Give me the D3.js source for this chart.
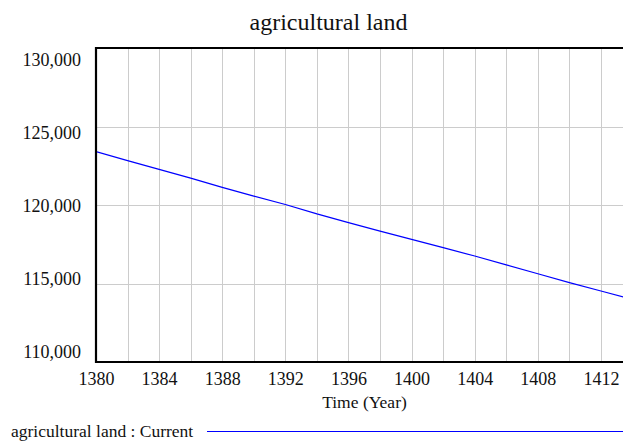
<!DOCTYPE html>
<html>
<head>
<meta charset="utf-8">
<script src="https://cdn.jsdelivr.net/npm/d3@7"></script>
<style>
  body { margin: 0; background: #fff; }
  svg { display: block; }
  text { font-family: "Liberation Serif", "Times New Roman", serif; fill: #111; }
</style>
</head>
<body>
<div id="chart"></div>
<script>
// values (every 2 years)
const years = [1380, 1382, 1384, 1386, 1388, 1390, 1392, 1394, 1396, 1398, 1400, 1402, 1404, 1406, 1408, 1410, 1412, 1414];
const land = [123400, 122830, 122270, 121710, 121120, 120570, 120030, 119430, 118880, 118340, 117810, 117280, 116750, 116190, 115620, 115060, 114520, 113980];
const xTicks = [1380, 1384, 1388, 1392, 1396, 1400, 1404, 1408, 1412];
const xGrid = [1382, 1384, 1386, 1388, 1390, 1392, 1394, 1396, 1398, 1400, 1402, 1404, 1406, 1408, 1410, 1412, 1414];
const yTicks = [110000, 115000, 120000, 125000, 130000];
const yGrid = [115000, 120000, 125000];

const W = 623, H = 443;
const plotLeft = 96, plotTop = 48, plotBottom = 362;

const svg = d3.select("#chart").append("svg")
    .attr("width", W)
    .attr("height", H);

const x = d3.scaleLinear().domain([1380, 1414]).range([plotLeft, plotLeft + 34 * 15.78]);
const y = d3.scaleLinear().domain([110000, 130000]).range([plotBottom, plotTop]);
// labels on the y axis sit slightly inside the tick positions
const yLab = d3.scaleLinear().domain([110000, 130000]).range([352, 60]);

svg.append("defs").append("clipPath").attr("id", "plot")
  .append("rect").attr("x", plotLeft).attr("y", plotTop).attr("width", W - plotLeft).attr("height", plotBottom - plotTop);

// grid
svg.append("g").selectAll("line").data(xGrid).join("line")
    .attr("x1", d => Math.round(x(d)) + 0.5).attr("x2", d => Math.round(x(d)) + 0.5)
    .attr("y1", plotTop).attr("y2", plotBottom)
    .attr("stroke", "#cccccc").attr("stroke-width", 1);
svg.append("g").selectAll("line").data(yGrid).join("line")
    .attr("x1", plotLeft).attr("x2", W)
    .attr("y1", d => Math.round(y(d)) + 0.5).attr("y2", d => Math.round(y(d)) + 0.5)
    .attr("stroke", "#cccccc").attr("stroke-width", 1);

// series
svg.append("path")
    .datum(d3.zip(years, land))
    .attr("clip-path", "url(#plot)")
    .attr("fill", "none")
    .attr("stroke", "#0000ff")
    .attr("stroke-width", 1.2)
    .attr("d", d3.line().x(d => x(d[0])).y(d => y(d[1])));

// frame
svg.append("path")
    .attr("d", `M${W},${plotTop}H${plotLeft}V${plotBottom}H${W}`)
    .attr("fill", "none")
    .attr("stroke", "#000")
    .attr("stroke-width", 2.2);

// axes (labels only)
const xAxis = svg.append("g")
    .attr("transform", `translate(0,${plotBottom})`)
    .call(d3.axisBottom(x).tickValues(xTicks).tickSize(0).tickPadding(10).tickFormat(d3.format("d")));
const yAxis = svg.append("g")
    .attr("transform", `translate(${plotLeft},0)`)
    .call(d3.axisLeft(yLab).tickValues(yTicks).tickSize(0).tickPadding(15).tickFormat(d3.format(",")));
[xAxis, yAxis].forEach(g => {
    g.select(".domain").remove();
    g.selectAll("text")
        .style("font-family", '"Liberation Serif", serif')
        .style("font-size", "18px")
        .attr("fill", "#111");
});

// title
svg.append("text")
    .attr("x", 328.5).attr("y", 30)
    .attr("text-anchor", "middle")
    .style("font-size", "24px")
    .text("agricultural land");

svg.append("text")
    .attr("x", 364.5).attr("y", 408)
    .attr("text-anchor", "middle")
    .style("font-size", "17.5px")
    .text("Time (Year)");

// legend
svg.append("text")
    .attr("x", 11).attr("y", 437)
    .style("font-size", "17.5px")
    .text("agricultural land : Current");
svg.append("line")
    .attr("x1", 207).attr("x2", W)
    .attr("y1", 431.5).attr("y2", 431.5)
    .attr("stroke", "#0000ff").attr("stroke-width", 1.2);
</script>
</body>
</html>
